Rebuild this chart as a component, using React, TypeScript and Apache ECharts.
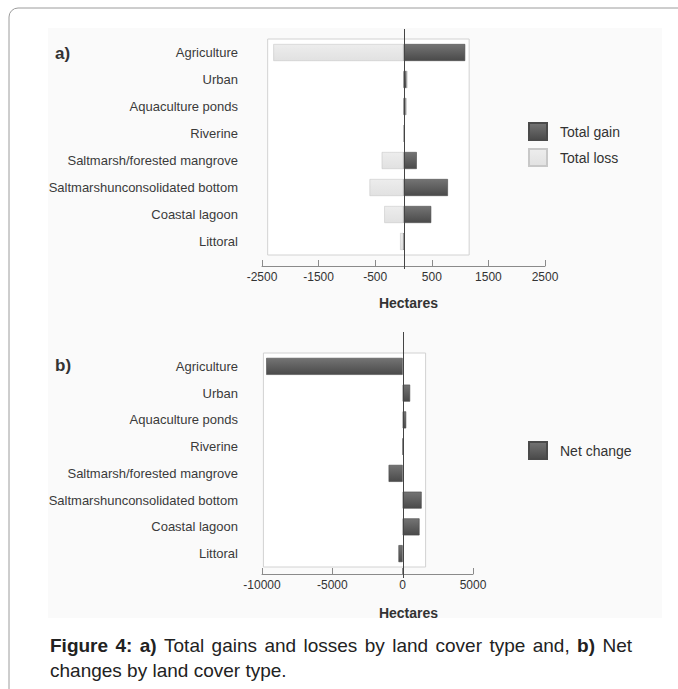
import React, { useEffect, useRef } from 'react';
import * as echarts from 'echarts';

const categories = [
  'Agriculture',
  'Urban',
  'Aquaculture ponds',
  'Riverine',
  'Saltmarsh/forested mangrove',
  'Saltmarshunconsolidated bottom',
  'Coastal lagoon',
  'Littoral',
];
const totalGain = [1090, 60, 45, 0, 235, 785, 490, 0];
const totalLoss = [-2300, 0, 0, 0, -385, -600, -340, -60];
const netChange = [-9700, 530, 250, 25, -1000, 1350, 1200, -300];

const axisA = { min: -2500, max: 2500, interval: 1000 };
const axisB = { min: -10000, max: 5000, interval: 5000 };
const boxA = [-2400, 1160];
const boxB = [-9900, 1630];

const captionLine1: [string, boolean][] = [
  ['Figure', true], ['4:', true], ['a)', true], ['Total', false], ['gains', false],
  ['and', false], ['losses', false], ['by', false], ['land', false], ['cover', false],
  ['type', false], ['and,', false], ['b)', true], ['Net', false],
];
const captionLine2 = 'changes by land cover type.';

const FONT = '"Liberation Sans", Arial, Helvetica, sans-serif';
const CAP_SIZE = 19;

function darkGrad() {
  return new echarts.graphic.LinearGradient(0, 0, 0, 1, [
    { offset: 0, color: '#747474' },
    { offset: 1, color: '#4a4a4a' },
  ]);
}
function lightGrad() {
  return new echarts.graphic.LinearGradient(0, 0, 0, 1, [
    { offset: 0, color: '#ededed' },
    { offset: 1, color: '#e1e1e1' },
  ]);
}

function measure(text: string, bold: boolean) {
  const c = document.createElement('canvas').getContext('2d');
  if (!c) return text.length * CAP_SIZE * 0.5;
  c.font = `${bold ? 'bold ' : ''}${CAP_SIZE}px ${FONT}`;
  return c.measureText(text).width;
}

function buildGraphics(x0a: number, x0b: number) {
  const els: any[] = [
    { type: 'rect', z: -20, silent: true, shape: { x: 9, y: 8, width: 900, height: 900, r: 9 }, style: { fill: '#ffffff', stroke: '#9c9c9c', lineWidth: 1 } },
    { type: 'rect', z: -19, silent: true, shape: { x: 48, y: 28, width: 614, height: 590 }, style: { fill: '#fafafa' } },
    { type: 'text', z: 10, x: 55, y: 53, style: { text: 'a)', fontSize: 17, fontWeight: 'bold', fontFamily: FONT, fill: '#333', verticalAlign: 'middle' } },
    { type: 'text', z: 10, x: 55, y: 365, style: { text: 'b)', fontSize: 17, fontWeight: 'bold', fontFamily: FONT, fill: '#333', verticalAlign: 'middle' } },
    { type: 'text', z: 10, x: 408.5, y: 303, style: { text: 'Hectares', fontSize: 14, fontWeight: 'bold', fontFamily: FONT, fill: '#333', align: 'center', verticalAlign: 'middle' } },
    { type: 'text', z: 10, x: 408.5, y: 613, style: { text: 'Hectares', fontSize: 14, fontWeight: 'bold', fontFamily: FONT, fill: '#333', align: 'center', verticalAlign: 'middle' } },
    { type: 'line', z: 50, silent: true, shape: { x1: Math.round(x0a) + 0.5, y1: 29, x2: Math.round(x0a) + 0.5, y2: 269 }, style: { stroke: '#444', lineWidth: 1 } },
    { type: 'line', z: 50, silent: true, shape: { x1: Math.round(x0b) + 0.5, y1: 332, x2: Math.round(x0b) + 0.5, y2: 578 }, style: { stroke: '#444', lineWidth: 1 } },
  ];
  const left = 50;
  const right = 632;
  const widths = captionLine1.map(([w, b]) => measure(w, b));
  const total = widths.reduce((a, b) => a + b, 0);
  const gap = (right - left - total) / (captionLine1.length - 1);
  let x = left;
  captionLine1.forEach(([w, b], i) => {
    els.push({ type: 'text', z: 10, x, y: 645, style: { text: w, fontSize: CAP_SIZE, fontWeight: b ? 'bold' : 'normal', fontFamily: FONT, fill: '#222', verticalAlign: 'middle' } });
    x += widths[i] + gap;
  });
  els.push({ type: 'text', z: 10, x: left, y: 670, style: { text: captionLine2, fontSize: CAP_SIZE, fontFamily: FONT, fill: '#222', verticalAlign: 'middle' } });
  return els;
}

function valueAxis(gridIndex: number, cfg: { min: number; max: number; interval: number }, offset: number) {
  return {
    gridIndex,
    type: 'value',
    min: cfg.min,
    max: cfg.max,
    interval: cfg.interval,
    offset,
    axisLine: { show: true, onZero: false, lineStyle: { color: '#8a8a8a', width: 1 } },
    axisTick: { show: true, inside: true, length: 6, lineStyle: { color: '#8a8a8a' } },
    axisLabel: { margin: 5, fontSize: 12, color: '#333', fontFamily: FONT, formatter: (v: number) => String(v) },
    splitLine: { show: false },
  };
}

function catAxis(gridIndex: number) {
  return {
    gridIndex,
    type: 'category',
    data: categories,
    inverse: true,
    axisLine: { show: false, onZero: false },
    axisTick: { show: false },
    axisLabel: { margin: 24, fontSize: 13, color: '#3a3a3a', fontFamily: FONT },
    splitLine: { show: false },
  };
}

function boxSeries(xi: number, box: number[]) {
  return {
    type: 'line',
    xAxisIndex: xi,
    yAxisIndex: xi,
    data: [],
    z: 1,
    silent: true,
    markArea: {
      silent: true,
      itemStyle: { color: '#ffffff', borderColor: '#d2d2d2', borderWidth: 1 },
      data: [[{ xAxis: box[0] }, { xAxis: box[1] }]],
    },
  };
}

export default function App() {
  const ref = useRef<HTMLDivElement>(null);
  useEffect(() => {
    const chart = echarts.init(ref.current!, null, { renderer: 'svg' });
    const legendCommon = {
      orient: 'vertical',
      left: 528,
      padding: 0,
      itemWidth: 18,
      itemHeight: 17,
      itemGap: 7,
      icon: 'rect',
      textStyle: { fontSize: 14, color: '#333', fontFamily: FONT, padding: [0, 0, 0, 8] },
    };
    chart.setOption({
      animation: false,
      textStyle: { fontFamily: FONT },
      grid: [
        { left: 262, top: 39, width: 283, height: 216 },
        { left: 262, top: 353, width: 211, height: 214 },
      ],
      xAxis: [valueAxis(0, axisA, 11), valueAxis(1, axisB, 7)],
      yAxis: [catAxis(0), catAxis(1)],
      legend: [
        { ...legendCommon, top: 122, data: ['Total gain', 'Total loss'] },
        { ...legendCommon, top: 441, data: ['Net change'] },
      ],
      series: [
        boxSeries(0, boxA),
        boxSeries(1, boxB),
        {
          name: 'Total gain',
          type: 'bar',
          stack: 'a',
          xAxisIndex: 0,
          yAxisIndex: 0,
          barWidth: 17,
          data: totalGain,
          itemStyle: { color: darkGrad(), borderColor: '#4a4a4a', borderWidth: 0.6 },
        },
        {
          name: 'Total loss',
          type: 'bar',
          stack: 'a',
          xAxisIndex: 0,
          yAxisIndex: 0,
          barWidth: 17,
          data: totalLoss,
          itemStyle: { color: lightGrad(), borderColor: '#c8c8c8', borderWidth: 0.6 },
        },
        {
          name: 'Net change',
          type: 'bar',
          xAxisIndex: 1,
          yAxisIndex: 1,
          barWidth: 17,
          data: netChange,
          itemStyle: { color: darkGrad(), borderColor: '#4a4a4a', borderWidth: 0.6 },
        },
      ],
    });
    const x0a = chart.convertToPixel({ xAxisIndex: 0 }, 0) as number;
    const x0b = chart.convertToPixel({ xAxisIndex: 1 }, 0) as number;
    chart.setOption({ graphic: buildGraphics(x0a, x0b) });
    return () => chart.dispose();
  }, []);
  return <div ref={ref} style={{ position: 'absolute', left: 0, top: 0, width: 678, height: 689 }} />;
}
